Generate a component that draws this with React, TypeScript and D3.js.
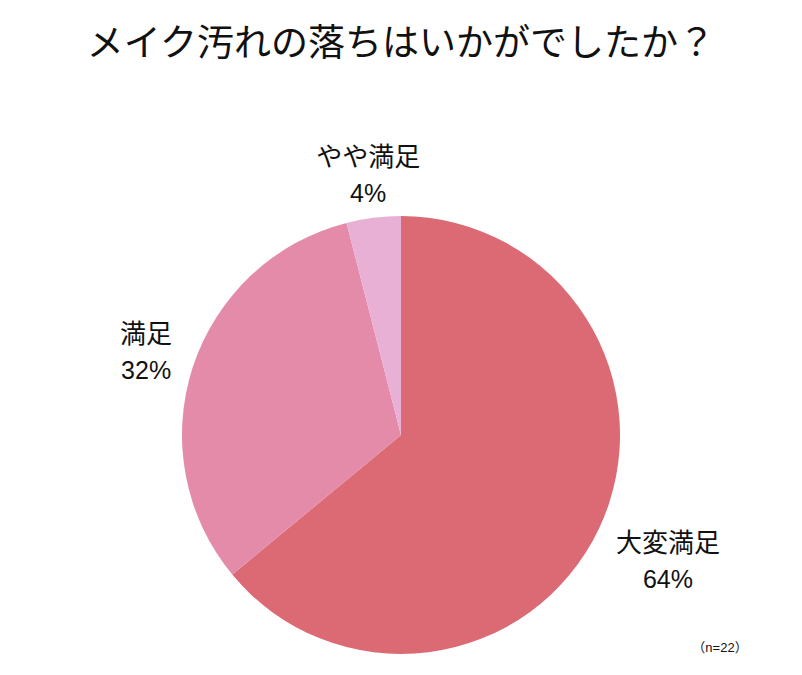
import * as d3 from 'd3';

const W = 802;
const H = 675;
const cx = 401;
const cy = 435;
const radius = 219;

const title = 'メイク汚れの落ちはいかがでしたか？';
const categories = ['大変満足', '満足', 'やや満足'];
const values = [64, 32, 4];
const colors = ['#DC6A74', '#E58BAA', '#E8B0D5'];
const note = '（n=22）';

// how far each label block's centre sits from the pie centre
const labelDist = [295, 268, 262];

const font = '"Liberation Sans", Arial, "Noto Sans CJK JP", sans-serif';

export default function App() {
  const pie = d3
    .pie<number>()
    .sort(null)
    .value((d) => d);
  const arcs = pie(values);
  const arc = d3.arc<d3.PieArcDatum<number>>().innerRadius(0).outerRadius(radius);

  return (
    <svg
      width={W}
      height={H}
      style={{ position: 'absolute', left: 0, top: 0, background: '#fff' }}
      fontFamily={font}
    >
      <text
        x={W / 2}
        y={43}
        textAnchor="middle"
        dominantBaseline="central"
        fontSize={37}
        fill="#111"
      >
        {title}
      </text>
      <g transform={`translate(${cx},${cy})`}>
        {arcs.map((a, i) => (
          <path key={categories[i]} d={arc(a) ?? ''} fill={colors[i]} />
        ))}
        {arcs.map((a, i) => {
          const mid = (a.startAngle + a.endAngle) / 2;
          const x = Math.sin(mid) * labelDist[i];
          const y = -Math.cos(mid) * labelDist[i];
          return (
            <g key={'l' + i} transform={`translate(${x},${y})`} fill="#111">
              <text textAnchor="middle" y={-18} dominantBaseline="central" fontSize={26}>
                {categories[i]}
              </text>
              <text textAnchor="middle" y={18} dominantBaseline="central" fontSize={25}>
                {values[i]}%
              </text>
            </g>
          );
        })}
      </g>
      <text x={720} y={647} textAnchor="middle" dominantBaseline="central" fontSize={13} fill="#111">
        {note}
      </text>
    </svg>
  );
}
